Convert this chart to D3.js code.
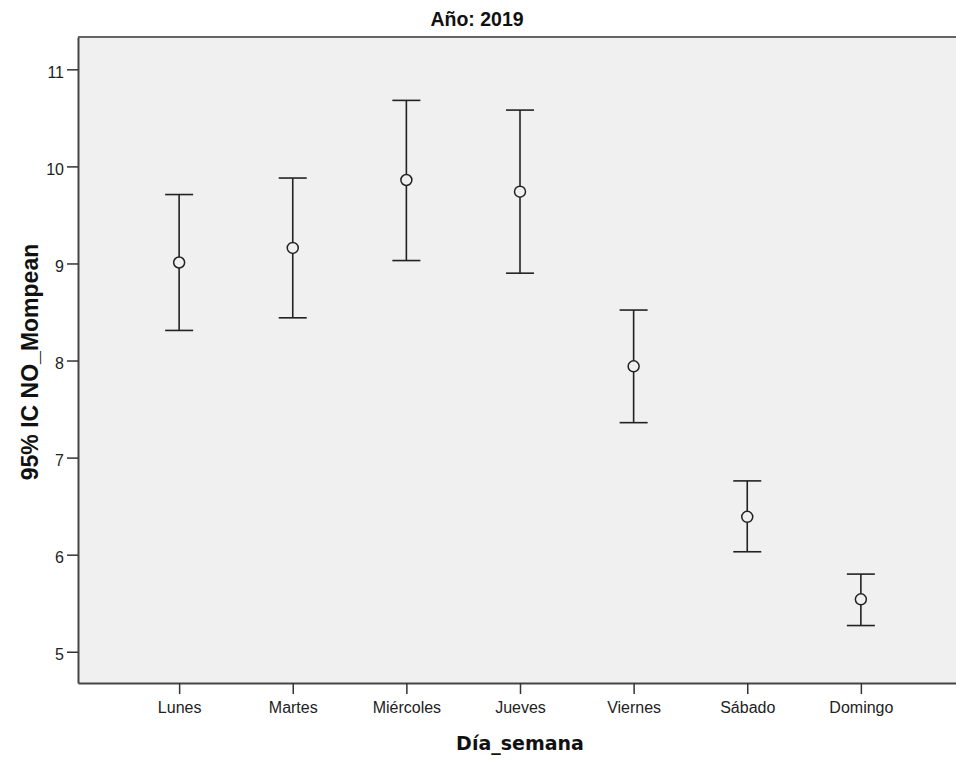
<!DOCTYPE html>
<html><head><meta charset="utf-8">
<script src="https://cdn.jsdelivr.net/npm/d3@7"></script>
<style>body{margin:0;background:#fff}svg{display:block}</style>
</head><body>
<svg id="chart" width="956" height="762"></svg>
<script>
const categories = ["Lunes","Martes","Miércoles","Jueves","Viernes","Sábado","Domingo"];
const means = [9.01, 9.16, 9.86, 9.74, 7.94, 6.39, 5.54];
const lower = [8.31, 8.44, 9.03, 8.90, 7.36, 6.03, 5.27];
const upper = [9.71, 9.88, 10.68, 10.58, 8.52, 6.76, 5.80];
const yTicks = [5, 6, 7, 8, 9, 10, 11];
const title = "Año: 2019";
const xTitle = "Día_semana";
const yTitle = "95% IC NO_Mompean";

const svg = d3.select("#chart");
const L = 78, R = 962, T = 37, B = 683;
const x = d3.scalePoint().domain(categories).range([L, R]).padding(0.89);
const y = d3.scaleLinear().domain([4.678, 11.333]).range([B, T]);

svg.append("rect").attr("x", L).attr("y", T).attr("width", R - L).attr("height", B - T).attr("fill", "#f0f0f0");
svg.append("line").attr("x1", L).attr("x2", R).attr("y1", T).attr("y2", T).attr("stroke", "#666").attr("stroke-width", 2);

const yAx = svg.append("g").attr("transform", `translate(${L},0)`)
  .call(d3.axisLeft(y).tickValues(yTicks).tickSize(11).tickSizeOuter(0).tickFormat(d3.format("d")));
const xAx = svg.append("g").attr("transform", `translate(0,${B})`)
  .call(d3.axisBottom(x).tickSize(11).tickSizeOuter(0));
[yAx, xAx].forEach(g => {
  g.select(".domain").attr("stroke", "#444").attr("stroke-width", 2);
  g.selectAll(".tick line").attr("stroke", "#333").attr("stroke-width", 1.5);
  g.selectAll(".tick text").attr("fill", "#222").style("font-family", "'Liberation Sans', Arial, sans-serif").style("font-size", "16px");
});
yAx.selectAll(".tick text").attr("x", -14).attr("dy", "0.5em");
xAx.selectAll(".tick text").attr("y", 18.5);

const g = svg.append("g");
const cap = 14;
categories.forEach((c, i) => {
  const cx = x(c);
  g.append("line").attr("x1", cx).attr("x2", cx).attr("y1", y(upper[i])).attr("y2", y(lower[i])).attr("stroke", "#222").attr("stroke-width", 1.6);
  g.append("line").attr("x1", cx - cap).attr("x2", cx + cap).attr("y1", y(upper[i])).attr("y2", y(upper[i])).attr("stroke", "#222").attr("stroke-width", 1.6);
  g.append("line").attr("x1", cx - cap).attr("x2", cx + cap).attr("y1", y(lower[i])).attr("y2", y(lower[i])).attr("stroke", "#222").attr("stroke-width", 1.6);
  g.append("circle").attr("cx", cx).attr("cy", y(means[i])).attr("r", 5.5).attr("fill", "#f0f0f0").attr("stroke", "#222").attr("stroke-width", 1.5);
});

svg.append("text").attr("x", 477).attr("y", 26).attr("text-anchor", "middle")
  .style("font-family", "'Liberation Sans', Arial, sans-serif").style("font-weight", "bold").style("font-size", "19.5px").attr("fill", "#111").text(title);
svg.append("text").attr("x", (L + R) / 2).attr("y", 750).attr("text-anchor", "middle")
  .style("font-family", "'DejaVu Sans', Verdana, sans-serif").style("font-weight", "bold").style("font-size", "19px").attr("fill", "#111").text(xTitle);
svg.append("text").attr("transform", `translate(38,${(T + B) / 2 + 2}) rotate(-90)`).attr("text-anchor", "middle")
  .style("font-family", "'Liberation Sans', Arial, sans-serif").style("font-weight", "bold").style("font-size", "23px").attr("fill", "#111").text(yTitle);
</script>
</body></html>
